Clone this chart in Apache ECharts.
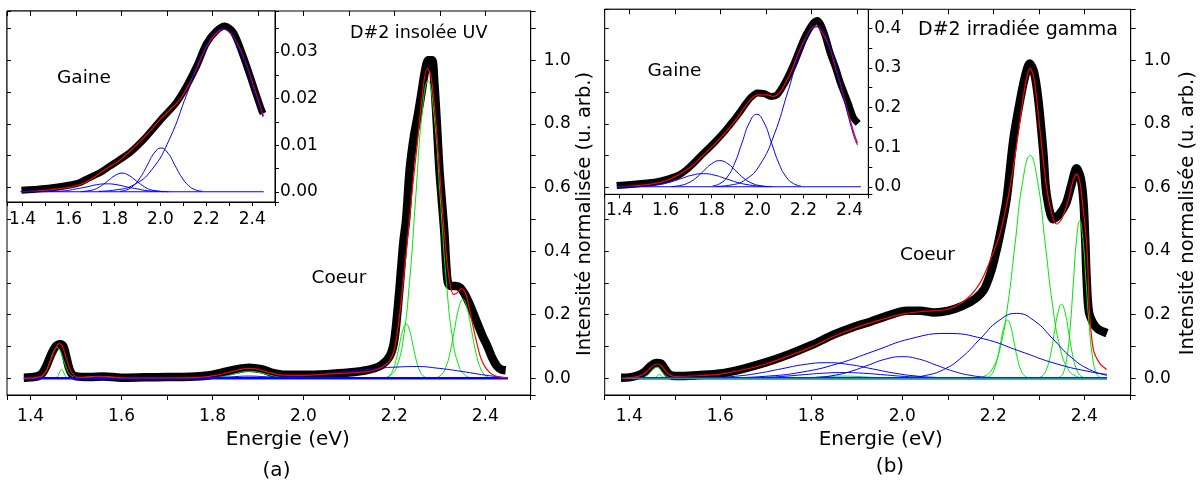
<!DOCTYPE html>
<html>
<head>
<meta charset="utf-8">
<title>D#2 - Gaine / Coeur</title>
<script src="https://cdn.jsdelivr.net/npm/echarts@6.0.0/dist/echarts.min.js"></script>
<style>
  html, body { margin: 0; padding: 0; background: #fff; }
  #chart { width: 1203px; height: 481px; }
</style>
</head>
<body>
<div id="chart"></div>
<script>
// ---------- panel (a) : D#2 insolée UV, main plot ----------
var measA = [[1.385,0.002],[1.40,0.003],[1.415,0.006],[1.425,0.015],[1.435,0.04],[1.445,0.075],[1.455,0.1],[1.465,0.107],[1.472,0.1],[1.478,0.07],[1.484,0.035],[1.49,0.015],[1.50,0.006],[1.53,0.004],[1.56,0.006],[1.60,0.002],[1.65,0.003],[1.70,0.004],[1.75,0.005],[1.79,0.009],[1.82,0.018],[1.85,0.027],[1.88,0.033],[1.91,0.028],[1.93,0.018],[1.96,0.011],[2.00,0.011],[2.05,0.013],[2.10,0.018],[2.14,0.026],[2.17,0.04],[2.19,0.07],[2.20,0.12],[2.21,0.26],[2.22,0.43],[2.226,0.5],[2.234,0.66],[2.243,0.76],[2.252,0.83],[2.26,0.9],[2.268,0.97],[2.275,1.0],[2.283,1.0],[2.288,0.93],[2.294,0.79],[2.299,0.66],[2.305,0.55],[2.31,0.46],[2.314,0.36],[2.318,0.3],[2.325,0.29],[2.335,0.29],[2.345,0.285],[2.355,0.265],[2.365,0.235],[2.375,0.2],[2.385,0.165],[2.395,0.13],[2.405,0.1],[2.415,0.065],[2.425,0.04],[2.435,0.028],[2.445,0.025]];
var fitA = [[1.385,0],[1.41,0.002],[1.425,0.008],[1.435,0.025],[1.445,0.06],[1.455,0.095],[1.463,0.11],[1.47,0.1],[1.478,0.065],[1.486,0.03],[1.495,0.01],[1.505,0.003],[1.53,0.004],[1.55,0.006],[1.575,0.004],[1.61,0.001],[1.70,0.001],[1.77,0.003],[1.81,0.01],[1.845,0.022],[1.865,0.029],[1.882,0.031],[1.90,0.028],[1.925,0.018],[1.95,0.011],[1.99,0.009],[2.05,0.013],[2.10,0.017],[2.14,0.021],[2.165,0.03],[2.18,0.042],[2.19,0.055],[2.20,0.09],[2.21,0.18],[2.22,0.31],[2.23,0.45],[2.24,0.6],[2.25,0.73],[2.26,0.87],[2.272,0.975],[2.28,0.955],[2.29,0.83],[2.30,0.645],[2.31,0.455],[2.32,0.32],[2.33,0.264],[2.338,0.268],[2.348,0.283],[2.358,0.262],[2.37,0.185],[2.38,0.12],[2.39,0.065],[2.40,0.035],[2.41,0.018],[2.42,0.009],[2.435,0.003],[2.45,0.001]];
var coreA1 = [[1.416,0.0011],[1.423,0.0043],[1.430,0.0131],[1.437,0.0315],[1.444,0.0588],[1.451,0.0856],[1.458,0.097],[1.465,0.0856],[1.472,0.0588],[1.479,0.0315],[1.486,0.0131],[1.493,0.0043],[1.500,0.0011]];
var coreA2 = [[1.453,0.0003],[1.4555,0.0012],[1.458,0.0038],[1.4605,0.0091],[1.463,0.017],[1.4655,0.0247],[1.468,0.028],[1.4705,0.0247],[1.473,0.017],[1.4755,0.0091],[1.478,0.0038],[1.4805,0.0012],[1.483,0.0003]];
var coreA3 = [[1.46,0.0001],[1.475,0.0003],[1.49,0.0008],[1.505,0.0019],[1.52,0.0036],[1.535,0.0053],[1.55,0.006],[1.565,0.0053],[1.58,0.0036],[1.595,0.0019],[1.61,0.0008],[1.625,0.0003],[1.64,0.0001]];
var coreA4 = [[1.777,0.0002],[1.7945,0.001],[1.812,0.003],[1.8295,0.0071],[1.847,0.0133],[1.8645,0.0194],[1.882,0.022],[1.8995,0.0194],[1.917,0.0133],[1.9345,0.0071],[1.952,0.003],[1.9695,0.001],[1.987,0.0002]];
var coreA5 = [[2.181,0.0019],[2.1885,0.0075],[2.196,0.0231],[2.2035,0.0555],[2.211,0.1037],[2.2185,0.1509],[2.226,0.171],[2.2335,0.1509],[2.241,0.1037],[2.2485,0.0555],[2.256,0.0231],[2.2635,0.0075],[2.271,0.0019]];
var coreA6 = [[2.1795,0.002],[2.193,0.0104],[2.2065,0.0411],[2.22,0.1266],[2.2335,0.3039],[2.247,0.5677],[2.2605,0.826],[2.274,0.936],[2.2875,0.826],[2.301,0.5677],[2.3145,0.3039],[2.328,0.1266],[2.3415,0.0411],[2.355,0.0104],[2.3685,0.002]];
var coreA7 = [[2.294,0.0028],[2.3035,0.0109],[2.313,0.0336],[2.3225,0.0805],[2.332,0.1504],[2.3415,0.2189],[2.351,0.248],[2.3605,0.2189],[2.37,0.1504],[2.3795,0.0805],[2.389,0.0336],[2.3985,0.0109],[2.408,0.0028]];
var gaineA1 = [[1.80,0.0005],[1.85,0.001],[1.90,0.002],[1.95,0.004],[1.992,0.007],[2.03,0.011],[2.065,0.016],[2.10,0.022],[2.138,0.028],[2.17,0.032],[2.2,0.035],[2.248,0.037],[2.30,0.031],[2.351,0.021],[2.40,0.01],[2.44,0.003],[2.45,0.002]];
var gaineA2 = [[1.76,0.0002],[1.80,0.0015],[1.84,0.0045],[1.88,0.007],[1.92,0.0045],[1.96,0.0015],[2.0,0.0002]];
var baseA = [[1.385,0],[2.45,0]];

// ---------- panel (a) : inset "Gaine" ----------
var measAi = [[1.395,0.0003],[1.45,0.0005],[1.52,0.0008],[1.60,0.0014],[1.65,0.002],[1.69,0.003],[1.74,0.0042],[1.78,0.0055],[1.82,0.0068],[1.87,0.0085],[1.94,0.0119],[2.01,0.0159],[2.07,0.0192],[2.115,0.0228],[2.16,0.0272],[2.20,0.0318],[2.245,0.0346],[2.28,0.0356],[2.318,0.0342],[2.36,0.0292],[2.405,0.0227],[2.44,0.0176],[2.447,0.0168]];
var fitAi = [[1.395,0],[1.50,0.0003],[1.62,0.0011],[1.68,0.0022],[1.737,0.004],[1.78,0.0054],[1.824,0.0068],[1.87,0.0088],[1.911,0.0108],[1.955,0.013],[1.998,0.0155],[2.04,0.0175],[2.085,0.0198],[2.115,0.0222],[2.143,0.0248],[2.175,0.0285],[2.202,0.0313],[2.24,0.0338],[2.274,0.0349],[2.31,0.0338],[2.347,0.0306],[2.38,0.0265],[2.405,0.0227],[2.43,0.019],[2.449,0.0162]];
var gaineAi1 = [[1.73,0.0001],[1.807,0.0004],[1.8845,0.0015],[1.962,0.0047],[2.0395,0.0113],[2.117,0.0212],[2.1945,0.0308],[2.272,0.0349],[2.342,0.0308],[2.412,0.0212],[2.446,0.0161]];
var gaineAi2 = [[1.823,0.0001],[1.853,0.0004],[1.883,0.0013],[1.913,0.0031],[1.943,0.0057],[1.973,0.0083],[2.003,0.0094],[2.033,0.0083],[2.063,0.0057],[2.093,0.0031],[2.123,0.0013],[2.153,0.0004],[2.183,0.0001]];
var gaineAi3 = [[1.653,0],[1.683,0.0002],[1.713,0.0005],[1.743,0.0013],[1.773,0.0024],[1.803,0.0035],[1.833,0.004],[1.863,0.0035],[1.893,0.0024],[1.923,0.0013],[1.953,0.0005],[1.983,0.0002],[2.013,0]];
var gaineAi4 = [[1.496,0],[1.541,0.0001],[1.586,0.0002],[1.631,0.0006],[1.676,0.001],[1.721,0.0015],[1.766,0.0017],[1.811,0.0015],[1.856,0.001],[1.901,0.0006],[1.946,0.0002],[1.991,0.0001],[2.036,0]];
var baseAi = [[1.39,0],[2.45,0]];

// ---------- panel (b) : D#2 irradiée gamma, main plot ----------
var measB = [[1.382,0.002],[1.40,0.003],[1.42,0.01],[1.435,0.022],[1.448,0.04],[1.46,0.048],[1.47,0.046],[1.478,0.03],[1.486,0.015],[1.495,0.008],[1.51,0.007],[1.55,0.01],[1.60,0.015],[1.65,0.03],[1.70,0.05],[1.75,0.075],[1.80,0.104],[1.85,0.138],[1.89,0.16],[1.93,0.178],[1.97,0.198],[2.01,0.212],[2.04,0.212],[2.07,0.207],[2.10,0.212],[2.13,0.226],[2.16,0.25],[2.18,0.28],[2.195,0.335],[2.205,0.39],[2.213,0.44],[2.229,0.56],[2.244,0.75],[2.259,0.875],[2.27,0.95],[2.28,0.99],[2.29,0.96],[2.299,0.875],[2.31,0.71],[2.317,0.58],[2.332,0.5],[2.345,0.515],[2.36,0.55],[2.372,0.61],[2.383,0.66],[2.392,0.63],[2.398,0.56],[2.402,0.44],[2.405,0.32],[2.41,0.21],[2.42,0.172],[2.43,0.155],[2.45,0.142]];
var fitB = [[1.385,0],[1.41,0.003],[1.43,0.012],[1.445,0.03],[1.46,0.045],[1.47,0.04],[1.48,0.022],[1.49,0.01],[1.50,0.006],[1.55,0.008],[1.60,0.013],[1.65,0.027],[1.70,0.045],[1.75,0.07],[1.80,0.098],[1.85,0.132],[1.90,0.16],[1.95,0.183],[2.0,0.202],[2.05,0.211],[2.10,0.217],[2.142,0.25],[2.171,0.3],[2.193,0.37],[2.215,0.456],[2.237,0.603],[2.255,0.77],[2.27,0.92],[2.281,0.975],[2.29,0.94],[2.299,0.83],[2.317,0.6],[2.33,0.51],[2.339,0.485],[2.35,0.5],[2.365,0.56],[2.375,0.62],[2.383,0.642],[2.39,0.62],[2.397,0.54],[2.403,0.46],[2.407,0.38],[2.411,0.22],[2.42,0.09],[2.434,0.047],[2.449,0.028]];
var coreB1 = [[1.424,0.0004],[1.430,0.0015],[1.436,0.0047],[1.442,0.0114],[1.448,0.0212],[1.454,0.0309],[1.46,0.035],[1.466,0.0309],[1.472,0.0212],[1.478,0.0114],[1.484,0.0047],[1.49,0.0015],[1.496,0.0004]];
var coreB2 = [[1.451,0.0001],[1.4535,0.0005],[1.456,0.0016],[1.4585,0.0039],[1.461,0.0073],[1.4635,0.0106],[1.466,0.012],[1.4685,0.0106],[1.471,0.0073],[1.4735,0.0039],[1.476,0.0016],[1.4785,0.0005],[1.481,0.0001]];
var coreB3 = [[1.72,0.0001],[1.745,0.0003],[1.77,0.0009],[1.795,0.0023],[1.82,0.0042],[1.845,0.0062],[1.87,0.007],[1.895,0.0062],[1.92,0.0042],[1.945,0.0023],[1.97,0.0009],[1.995,0.0003],[2.02,0.0001]];
var coreB4 = [[2.186,0.002],[2.1935,0.008],[2.201,0.0248],[2.2085,0.0594],[2.216,0.111],[2.2235,0.1615],[2.231,0.183],[2.2385,0.1615],[2.246,0.111],[2.2535,0.0594],[2.261,0.0248],[2.2685,0.008],[2.276,0.002]];
var coreB5 = [[2.165,0.0015],[2.182,0.0078],[2.1985,0.0307],[2.215,0.0947],[2.2315,0.2273],[2.248,0.4246],[2.2645,0.6178],[2.281,0.70],[2.2975,0.6178],[2.314,0.4246],[2.3305,0.2273],[2.347,0.0947],[2.3635,0.0307],[2.38,0.0078],[2.397,0.0015]];
var coreB6 = [[2.302,0.0026],[2.31,0.0102],[2.318,0.0315],[2.326,0.0757],[2.334,0.1413],[2.342,0.2056],[2.35,0.233],[2.358,0.2056],[2.366,0.1413],[2.374,0.0757],[2.382,0.0315],[2.39,0.0102],[2.398,0.0026]];
var coreB7 = [[2.34,0.0011],[2.348,0.0055],[2.355,0.0217],[2.362,0.067],[2.369,0.1607],[2.376,0.3002],[2.383,0.4368],[2.39,0.495],[2.397,0.4368],[2.404,0.3002],[2.411,0.1607],[2.418,0.067],[2.425,0.0217],[2.432,0.0055],[2.44,0.0011]];
var gaineB1 = [[1.534,0.0005],[1.584,0.0022],[1.634,0.0066],[1.684,0.0159],[1.734,0.0297],[1.784,0.0432],[1.834,0.049],[1.884,0.0432],[1.934,0.0297],[1.984,0.0159],[2.034,0.0066],[2.084,0.0022],[2.134,0.0005]];
var gaineB2 = [[1.775,0.0008],[1.8125,0.003],[1.85,0.0092],[1.8875,0.0221],[1.925,0.0412],[1.9625,0.06],[2.0,0.068],[2.0375,0.06],[2.075,0.0412],[2.1125,0.0221],[2.15,0.0092],[2.1875,0.003],[2.225,0.0008]];
var gaineB3 = [[1.458,0.0001],[1.538,0.0003],[1.618,0.0016],[1.698,0.0062],[1.778,0.0191],[1.858,0.0458],[1.938,0.0855],[2.018,0.1244],[2.098,0.141],[2.178,0.1244],[2.258,0.0855],[2.338,0.0458],[2.418,0.0191],[2.45,0.0126]];
var gaineB4 = [[1.971,0.0005],[2.011,0.0023],[2.051,0.009],[2.091,0.0276],[2.131,0.0662],[2.171,0.1237],[2.211,0.18],[2.251,0.204],[2.291,0.18],[2.331,0.1237],[2.371,0.0662],[2.411,0.0276],[2.45,0.0092]];
var gaineB5 = [[1.6,0.0002],[1.645,0.0008],[1.69,0.0024],[1.735,0.0058],[1.78,0.0109],[1.825,0.0159],[1.87,0.018],[1.915,0.0159],[1.96,0.0109],[2.005,0.0058],[2.05,0.0024],[2.095,0.0008],[2.14,0.0002]];
var baseB = [[1.385,0],[2.45,0]];

// ---------- panel (b) : inset "Gaine" ----------
var measBi = [[1.388,0.003],[1.45,0.006],[1.53,0.01],[1.58,0.015],[1.62,0.021],[1.66,0.03],[1.69,0.042],[1.72,0.058],[1.75,0.076],[1.81,0.11],[1.85,0.135],[1.88,0.156],[1.91,0.178],[1.94,0.202],[1.97,0.225],[2.00,0.237],[2.03,0.235],[2.06,0.228],[2.085,0.232],[2.11,0.253],[2.135,0.28],[2.16,0.312],[2.20,0.37],[2.225,0.398],[2.245,0.415],[2.26,0.42],[2.275,0.41],[2.295,0.38],[2.315,0.34],[2.34,0.3],[2.359,0.265],[2.395,0.21],[2.417,0.175],[2.438,0.16]];
var fitBi = [[1.39,0],[1.45,0.002],[1.50,0.004],[1.55,0.008],[1.60,0.015],[1.64,0.025],[1.68,0.038],[1.72,0.055],[1.75,0.072],[1.81,0.105],[1.85,0.13],[1.88,0.15],[1.91,0.172],[1.94,0.197],[1.97,0.22],[2.00,0.232],[2.04,0.232],[2.07,0.228],[2.10,0.24],[2.125,0.265],[2.15,0.295],[2.175,0.333],[2.20,0.365],[2.23,0.395],[2.255,0.406],[2.28,0.39],[2.3125,0.355],[2.34,0.3],[2.365,0.25],[2.39,0.195],[2.4175,0.14],[2.435,0.11]];
var gaineBi1 = [[1.82,0.0009],[1.885,0.0045],[1.9475,0.0177],[2.01,0.0547],[2.0725,0.1312],[2.135,0.245],[2.1975,0.3565],[2.26,0.404],[2.3125,0.3565],[2.365,0.245],[2.4175,0.1312],[2.435,0.105]];
var gaineBi2 = [[1.805,0.002],[1.837,0.008],[1.869,0.0248],[1.901,0.0594],[1.933,0.111],[1.965,0.1615],[1.997,0.183],[2.029,0.1615],[2.061,0.111],[2.093,0.0594],[2.125,0.0248],[2.157,0.008],[2.189,0.002]];
var gaineBi3 = [[1.626,0.0007],[1.661,0.0029],[1.696,0.0089],[1.731,0.0214],[1.766,0.04],[1.801,0.0582],[1.836,0.066],[1.871,0.0582],[1.906,0.04],[1.941,0.0214],[1.976,0.0089],[2.011,0.0029],[2.046,0.0007]];
var gaineBi4 = [[1.465,0.0004],[1.515,0.0014],[1.565,0.0045],[1.615,0.0107],[1.665,0.02],[1.715,0.0291],[1.765,0.033],[1.815,0.0291],[1.865,0.02],[1.915,0.0107],[1.965,0.0045],[2.015,0.0014],[2.065,0.0004]];
var baseBi = [[1.39,0],[2.45,0]];

// axis extents
var xMainA = [1.348, 2.5],   yMainA = [-0.0525, 1.155];
var xInsetA = [1.332, 2.499], yInsetA = [-0.0022, 0.0388];
var xMainB = [1.346, 2.502], yMainB = [-0.0525, 1.16];
var xInsetB = [1.336, 2.482], yInsetB = [-0.019, 0.448];

var FONT = 'DejaVu Sans';
var GREEN = '#00e600', RED = '#ff0000', BLUE = '#0000ff';

function valueAxis(o) {
  var step = o.step;
  return {
    type: 'value', gridIndex: o.grid, position: o.pos,
    min: o.range[0], max: o.range[1], z: o.z,
    splitLine: { show: false },
    minorSplitLine: { show: false },
    axisLine: { show: !!o.line, onZero: false, lineStyle: { color: '#000', width: 1 } },
    axisTick: { show: true, inside: !!o.inside, length: o.tick, lineStyle: { color: '#000', width: 1 } },
    minorTick: { show: true, splitNumber: 2, length: o.tick, lineStyle: { color: '#000', width: 1 } },
    axisLabel: o.digits == null ? { show: false } : {
      show: true, margin: o.margin, color: '#000', fontFamily: FONT, fontSize: 17,
      showMinLabel: false, showMaxLabel: false,
      formatter: function (v) {
        var k = v / step;
        if (Math.abs(k - Math.round(k)) > 1e-6) return '';
        return v.toFixed(o.digits);
      }
    },
    name: o.name || '', nameLocation: 'middle', nameGap: o.nameGap || 0,
    nameTextStyle: { color: '#000', fontFamily: FONT, fontSize: o.nameSize || 19, padding: o.namePad || 0 }
  };
}

function curve(data, color, width, xi, z, smooth) {
  return {
    type: 'line', data: data, xAxisIndex: xi, yAxisIndex: xi,
    symbol: 'none', showSymbol: false, smooth: smooth,
    lineStyle: { color: color, width: width, join: 'round' }, itemStyle: { color: color },
    z: z, silent: true, emphasis: { disabled: true }
  };
}

var chart = echarts.init(document.getElementById('chart'));

var grids = [
  { left: 7, top: 11, width: 523.7, height: 384, show: true, borderColor: '#000', borderWidth: 1, backgroundColor: 'transparent', containLabel: false, outerBoundsMode: 'none', z: 0 },
  { left: 7, top: 11, width: 268, height: 191, show: true, borderColor: '#000', borderWidth: 1, backgroundColor: '#fff', containLabel: false, outerBoundsMode: 'none', z: 3 },
  { left: 604.7, top: 9.3, width: 526, height: 385.7, show: true, borderColor: '#000', borderWidth: 1, backgroundColor: 'transparent', containLabel: false, outerBoundsMode: 'none', z: 0 },
  { left: 604.7, top: 9.3, width: 263.6, height: 185, show: true, borderColor: '#000', borderWidth: 1, backgroundColor: '#fff', containLabel: false, outerBoundsMode: 'none', z: 3 }
];

// axis index layout: 0 main a, 1 mirror a, 2 inset a, 3 main b, 4 mirror b, 5 inset b
var xAxes = [
  valueAxis({ grid: 0, pos: 'bottom', range: xMainA, step: 0.2, digits: 1, margin: 13, tick: 5, line: true, z: 1,
              name: 'Energie (eV)', nameGap: 34, nameSize: 20, namePad: [0, 0, 0, 38] }),
  valueAxis({ grid: 0, pos: 'top', range: xMainA, tick: 5, inside: true, z: 6 }),
  valueAxis({ grid: 1, pos: 'bottom', range: xInsetA, step: 0.2, digits: 1, margin: 9, tick: 4, line: true, z: 4 }),
  valueAxis({ grid: 2, pos: 'bottom', range: xMainB, step: 0.2, digits: 1, margin: 13, tick: 5, line: true, z: 1,
              name: 'Energie (eV)', nameGap: 34, nameSize: 20, namePad: [0, 0, 0, 26] }),
  valueAxis({ grid: 2, pos: 'top', range: xMainB, tick: 5, inside: true, z: 6 }),
  valueAxis({ grid: 3, pos: 'bottom', range: xInsetB, step: 0.2, digits: 1, margin: 8, tick: 4, line: true, z: 4 })
];
var yAxes = [
  valueAxis({ grid: 0, pos: 'right', range: yMainA, step: 0.2, digits: 1, margin: 13, tick: 5, line: true, z: 1,
              name: 'Intensité normalisée (u. arb.)', nameGap: 44, nameSize: 19.5, namePad: [0, 22, 0, 0] }),
  valueAxis({ grid: 0, pos: 'left', range: yMainA, tick: 4, inside: true, z: 6 }),
  valueAxis({ grid: 1, pos: 'right', range: yInsetA, step: 0.01, digits: 2, margin: 5, tick: 4, line: true, z: 4 }),
  valueAxis({ grid: 2, pos: 'right', range: yMainB, step: 0.2, digits: 1, margin: 13, tick: 5, line: true, z: 1,
              name: 'Intensité normalisée (u. arb.)', nameGap: 47, nameSize: 19.5, namePad: [0, 22, 0, 0] }),
  valueAxis({ grid: 2, pos: 'left', range: yMainB, tick: 4, inside: true, z: 6 }),
  valueAxis({ grid: 3, pos: 'right', range: yInsetB, step: 0.1, digits: 1, margin: 6, tick: 4, line: true, z: 4 })
];

var series = [];
// (a) main
series.push(curve(measA, '#000', 8.5, 0, 2, 0.3));
[coreA1, coreA2, coreA3, coreA4, coreA5, coreA6, coreA7].forEach(function (d) { series.push(curve(d, GREEN, 1, 0, 2, 0.5)); });
[gaineA1, gaineA2].forEach(function (d) { series.push(curve(d, BLUE, 1, 0, 2, 0.5)); });
series.push(curve(baseA, BLUE, 2.5, 0, 2, false));
series.push(curve(fitA, RED, 1.2, 0, 2, 0.3));
// (a) inset
series.push(curve(measAi, '#000', 7, 2, 4, 0.3));
series.push(curve(fitAi, RED, 1.2, 2, 4, 0.3));
[gaineAi1, gaineAi2, gaineAi3, gaineAi4].forEach(function (d) { series.push(curve(d, BLUE, 1, 2, 4, 0.5)); });
series.push(curve(baseAi, BLUE, 1.2, 2, 4, false));
// (b) main
series.push(curve(measB, '#000', 8.5, 3, 2, 0.3));
[coreB1, coreB2, coreB3, coreB4, coreB5, coreB6, coreB7].forEach(function (d) { series.push(curve(d, GREEN, 1, 3, 2, 0.5)); });
[gaineB1, gaineB2, gaineB3, gaineB4, gaineB5].forEach(function (d) { series.push(curve(d, BLUE, 1, 3, 2, 0.5)); });
series.push(curve(baseB, BLUE, 2.5, 3, 2, false));
series.push(curve(baseB, GREEN, 1, 3, 2, false));
series.push(curve(fitB, RED, 1.2, 3, 2, 0.3));
// (b) inset
series.push(curve(measBi, '#000', 7, 5, 4, 0.3));
series.push(curve(fitBi, RED, 1.2, 5, 4, 0.3));
[gaineBi1, gaineBi2, gaineBi3, gaineBi4].forEach(function (d) { series.push(curve(d, BLUE, 1, 5, 4, 0.5)); });
series.push(curve(baseBi, BLUE, 1.2, 5, 4, false));

function label(text, x, y, size, align) {
  return {
    type: 'text', x: x, y: y, z: 10, silent: true,
    style: { text: text, fill: '#000', font: size + 'px "' + FONT + '"', align: align || 'left', verticalAlign: 'middle' }
  };
}

var option = {
  animation: false,
  backgroundColor: '#fff',
  grid: grids,
  xAxis: xAxes,
  yAxis: yAxes,
  series: series,
  graphic: { elements: [
    label('Gaine', 57, 78, 18.5),
    label('Coeur', 311.5, 278, 18.5),
    label('D#2 insolée UV', 350, 33.5, 17.5),
    label('(a)', 276.5, 471, 20, 'center'),
    label('Gaine', 647.5, 71, 18.5),
    label('Coeur', 900, 255, 18.5),
    label('D#2 irradiée gamma', 918, 30, 19),
    label('(b)', 890, 467, 20, 'center')
  ] }
};

chart.setOption(option);
</script>
</body>
</html>
